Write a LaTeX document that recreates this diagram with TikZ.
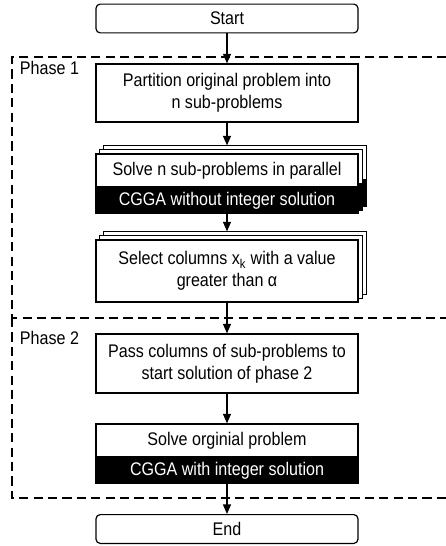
\documentclass[tikz,border=0pt]{standalone}
\usepackage{fontspec}
\setmainfont{Liberation Sans}[FakeStretch=0.88]
\usetikzlibrary{arrows.meta,backgrounds}

\begin{document}
\begin{tikzpicture}[
  x=0.25mm,y=-0.25mm,
  font=\fontsize{13pt}{15.6pt}\selectfont,
  term/.style={draw,rounded corners=3pt,minimum width=65.5mm,minimum height=7.2mm,inner sep=0pt,line width=0.85pt},
  proc/.style={draw,fill=white,align=center,minimum width=65.5mm,inner sep=0pt,line width=0.85pt},
  band/.style={draw,fill=black,text=white,minimum width=65.5mm,minimum height=6.4mm,inner sep=0pt,line width=0.85pt},
  layer/.style={draw,line width=0.85pt},
  phase/.style={dash pattern=on 2.3mm off 1.3mm,line width=0.85pt},
  flow/.style={-{Triangle[length=2.4mm,width=2mm]},line width=0.85pt},
]
\useasboundingbox (0,0) rectangle (445,546);

% phases
\draw[phase] (446,57) -| (12,318) -- (446,318);
\draw[phase] (12,318) |- (446,498);
\node[anchor=west] (ph1) at (15,68) {Phase 1};
\node[anchor=west] (ph2) at (15,338) {Phase 2};

% steps
\node[term] (start) at (227,18.5) {Start};
\node[proc,minimum height=14.5mm] (part) at (227,93)
  {Partition original problem into\\n sub-problems};
\node[proc,minimum height=8.25mm] (solve) at (227,170.5) {Solve n sub-problems in parallel};
\node[band,anchor=north] (solvecg) at (solve.south) {CGGA without integer solution};
\node[proc,minimum height=15.5mm] (select) at (227,271)
  {Select columns x\textsubscript{k} with a value\\greater than α};
\node[proc,minimum height=14.75mm] (pass) at (227,363.5)
  {Pass columns of sub-problems to\\start solution of phase 2};
\node[proc,minimum height=8.25mm] (orig) at (227,440.5) {Solve orginial problem};
\node[band,anchor=north] (origcg) at (orig.south) {CGGA with integer solution};
\node[term] (end) at (227,529) {End};

% stacked copies behind the parallel steps
\begin{scope}[on background layer]
\foreach \d in {8,4}{
  \draw[layer,fill=white] ([shift={(\d,-\d)}]solve.north west) rectangle ([shift={(\d,-\d)}]solvecg.south east);
  \draw[layer,fill=black] ([shift={(\d,-\d)}]solvecg.north west) rectangle ([shift={(\d,-\d)}]solvecg.south east);
  \draw[layer,fill=white] ([shift={(\d,-\d)}]select.north west) rectangle ([shift={(\d,-\d)}]select.south east);
}
\end{scope}
\coordinate (solvetop) at ([yshift=2mm]solve.north);
\coordinate (selecttop) at ([yshift=2mm]select.north);

% flow
\draw[flow] (start) -- (part);
\draw[flow] (part) -- (solvetop);
\draw[flow] (solvecg) -- (selecttop);
\draw[flow] (select) -- (pass);
\draw[flow] (pass) -- (orig);
\draw[flow] (origcg) -- (end);
\end{tikzpicture}
\end{document}
